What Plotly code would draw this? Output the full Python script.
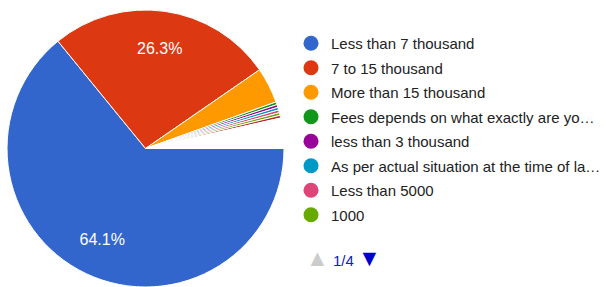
import plotly.graph_objects as go

# Legend page 1 categories (Google Forms style pie)
categories = [
    "Less than 7 thousand",
    "7 to 15 thousand",
    "More than 15 thousand",
    "Fees depends on what exactly are yo…",
    "less than 3 thousand",
    "As per actual situation at the time of la…",
    "Less than 5000",
    "1000",
]
counts = [200, 82, 13, 1, 1, 1, 1, 1]
colors = ["#3366cc", "#dc3912", "#ff9900", "#109618", "#990099", "#0099c6", "#dd4477", "#66aa00"]

# remaining responses on later legend pages (not labelled on page 1)
other_labels = ["(page 2) a", "(pages 2-4) rest"]
other_counts = [1, 11]
other_colors = ["#b82e2e", "#ffffff"]

pager_text = "1/4"

labels = categories + other_labels
values = counts + other_counts
slice_colors = colors + other_colors
total = sum(values)
texts = [("%.1f%%" % (100 * v / total)) if 100 * v / total > 10 else "" for v in values]

domain = dict(x=[7 / 606, 285 / 606], y=[0, 1 - 10 / 287])

fig = go.Figure()
# coloured slices
fig.add_trace(go.Pie(
    labels=labels, values=values, sort=False, direction="clockwise", rotation=90,
    marker=dict(colors=slice_colors, line=dict(color="white", width=1)),
    textinfo="none", showlegend=False, hoverinfo="label+percent",
    domain=domain,
))
# transparent ring overlay that places the percentage labels further out
fig.add_trace(go.Pie(
    labels=labels, values=values, sort=False, direction="clockwise", rotation=90,
    hole=0.46,
    marker=dict(colors=["rgba(0,0,0,0)"] * len(values), line=dict(width=0)),
    text=texts, texttemplate="%{text}", textposition="inside",
    insidetextorientation="horizontal",
    textfont=dict(family="Arial, Liberation Sans", size=16, color="white"),
    showlegend=False, hoverinfo="skip",
    domain=domain,
))

for i, (c, col) in enumerate(zip(categories, colors)):
    fig.add_trace(go.Scatter(
        x=[None], y=[None], mode="markers", name=c, legendgroup="g%d" % i,
        marker=dict(symbol="circle", size=15, color=col),
    ))

fig.update_layout(
    width=606, height=287,
    margin=dict(l=0, r=0, t=0, b=0),
    paper_bgcolor="white", plot_bgcolor="white",
    xaxis=dict(visible=False), yaxis=dict(visible=False),
    legend=dict(
        x=292 / 606, y=1 - 27 / 287, xanchor="left", yanchor="top",
        font=dict(family="Arial, Liberation Sans", size=15, color="#222222"),
        traceorder="grouped", tracegroupgap=2, itemclick=False,
        bgcolor="rgba(0,0,0,0)",
    ),
    annotations=[dict(
        x=305 / 606, y=1 - 258 / 287, xref="paper", yref="paper",
        xanchor="left", yanchor="middle", showarrow=False,
        text="<span style='color:#cccccc;font-size:23px'>▲</span> "
             "<span style='color:#0b20c8'>" + pager_text + "</span> "
             "<span style='color:#0000cc;font-size:23px'>▼</span>",
        font=dict(family="Arial, Liberation Sans", size=15),
    )],
)

fig.write_html("out.html", config={"displayModeBar": False},
               post_script="document.body.style.margin='0';")
